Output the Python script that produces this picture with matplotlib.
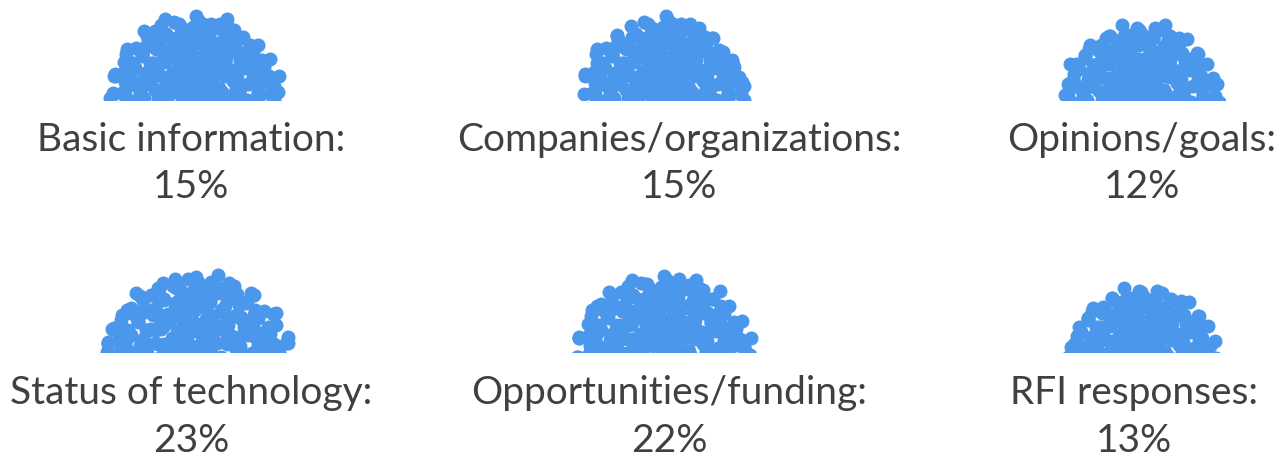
import numpy as np
import matplotlib
matplotlib.use("Agg")
import matplotlib.pyplot as plt
from matplotlib.patches import Rectangle

plt.rcParams['font.family'] = ['Lato', 'DejaVu Sans']

# data
labels = ["Basic information:", "Companies/organizations:", "Opinions/goals:",
          "Status of technology:", "Opportunities/funding:", "RFI responses:"]
shares = [15, 15, 12, 23, 22, 13]
dot_counts = [230, 215, 190, 250, 235, 185]

# layout (pixels)
blob_cx = [195, 665, 1139, 195, 663, 1141]
blob_base = [100, 100, 100, 352, 352, 352]
blob_r = [93, 90, 86, 104, 98, 84]
blob_drop = [2, 2, 4, 20, 14, 14]     # circle centre below cut line
text_cx = [191, 679, 1142, 191, 669, 1134]
text_y = [140, 187, 140, 187, 140, 187, 393, 441, 393, 441, 393, 441]

blue = "#4a97ec"
grey = "#404040"
dot_px = 14

fig = plt.figure(figsize=(12.86, 4.61), dpi=100)
ax = fig.add_axes([0, 0, 1, 1])
ax.set_xlim(0, 1286)
ax.set_ylim(461, 0)
ax.axis("off")

golden = np.pi * (3 - np.sqrt(5))
for i in range(6):
    n = dot_counts[i]
    k = np.arange(n)
    r = (blob_r[i] - dot_px / 2) * np.sqrt((k + 0.5) / n)
    th = k * golden
    # small deterministic wobble so it looks less like a spiral
    r = r + 4 * np.sin(k * 2.3)
    th = th + 0.08 * np.cos(k * 1.7)
    x = blob_cx[i] + r * np.cos(th)
    y = blob_base[i] + blob_drop[i] - np.abs(r * np.sin(th))
    sc = ax.scatter(x, y, s=(dot_px * 0.72) ** 2, color=blue,
                    linewidths=0, zorder=2)
    sc.set_clip_path(Rectangle((0, 0), 1286, blob_base[i], transform=ax.transData))

    ax.text(text_cx[i], text_y[2 * i], labels[i], ha="center", va="center",
            fontsize=28, color=grey)
    ax.text(text_cx[i], text_y[2 * i + 1], f"{shares[i]}%", ha="center",
            va="center", fontsize=28, color=grey)

fig.savefig("out.png", dpi=100, facecolor="white")
